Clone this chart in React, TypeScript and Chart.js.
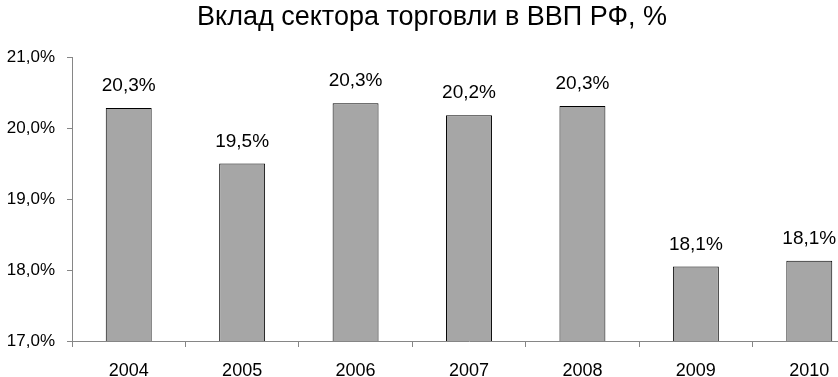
import React, { useEffect, useRef } from "react";
import { Chart, registerables } from "chart.js";

Chart.register(...registerables);

const TITLE = "Вклад сектора торговли в ВВП РФ, %";
const years = ["2004", "2005", "2006", "2007", "2008", "2009", "2010"];
const shares = [20.28, 19.5, 20.35, 20.18, 20.31, 18.05, 18.13];
const valueLabels = ["20,3%", "19,5%", "20,3%", "20,2%", "20,3%", "18,1%", "18,1%"];
const yTicks = [17, 18, 19, 20, 21];

const FONT = '"Liberation Sans", Arial, sans-serif';
const CANVAS_W = 900;
const CANVAS_H = 377;

const fmtPct = (v: number) => v.toFixed(1).replace(".", ",") + "%";

const overlay = {
  id: "overlay",
  afterDraw(chart: any) {
    const ctx = chart.ctx;
    ctx.save();
    ctx.fillStyle = "#000";
    ctx.font = `27px ${FONT}`;
    ctx.textAlign = "center";
    ctx.textBaseline = "middle";
    ctx.fillText(TITLE, 432, 18);
    const meta = chart.getDatasetMeta(0);
    ctx.font = `19px ${FONT}`;
    meta.data.forEach((bar: any, i: number) => {
      ctx.fillText(valueLabels[i], bar.x, bar.y - 22);
    });
    ctx.restore();
  },
};

export default function App() {
  const ref = useRef<HTMLCanvasElement | null>(null);
  useEffect(() => {
    if (!ref.current) return;
    const chart = new Chart(ref.current, {
      type: "bar",
      data: {
        labels: years,
        datasets: [
          {
            data: shares,
            backgroundColor: "#a6a6a6",
            borderColor: "#000000",
            borderWidth: 1,
            barPercentage: 0.405,
            categoryPercentage: 1,
          },
        ],
      },
      options: {
        responsive: false,
        animation: false,
        layout: { padding: { top: 57, left: 0, right: CANVAS_W - 866, bottom: 0 } },
        plugins: { legend: { display: false }, title: { display: false }, tooltip: { enabled: false } },
        scales: {
          x: {
            offset: true,
            grid: { display: true, drawOnChartArea: false, offset: true, tickLength: 6, color: "#868686" },
            border: { display: true, color: "#868686" },
            ticks: { color: "#000", font: { family: FONT, size: 18 }, padding: 13, maxRotation: 0 },
            afterFit: (s: any) => { s.height = 36; },
          },
          y: {
            min: 17,
            max: 21,
            afterBuildTicks: (s: any) => { s.ticks = yTicks.map((v) => ({ value: v })); },
            grid: { display: true, drawOnChartArea: false, tickLength: 5, color: "#868686" },
            border: { display: true, color: "#868686" },
            ticks: { color: "#000", font: { family: FONT, size: 17 }, padding: 12, callback: (v: any) => fmtPct(Number(v)) },
            afterFit: (s: any) => { s.width = 72; },
          },
        },
      },
      plugins: [overlay],
    });
    return () => chart.destroy();
  }, []);
  return (
    <div style={{ position: "fixed", left: 0, top: 0, width: 838, height: 377, overflow: "hidden", background: "#fff" }}>
      <canvas ref={ref} width={CANVAS_W} height={CANVAS_H} style={{ width: CANVAS_W, height: CANVAS_H, display: "block" }} />
    </div>
  );
}
